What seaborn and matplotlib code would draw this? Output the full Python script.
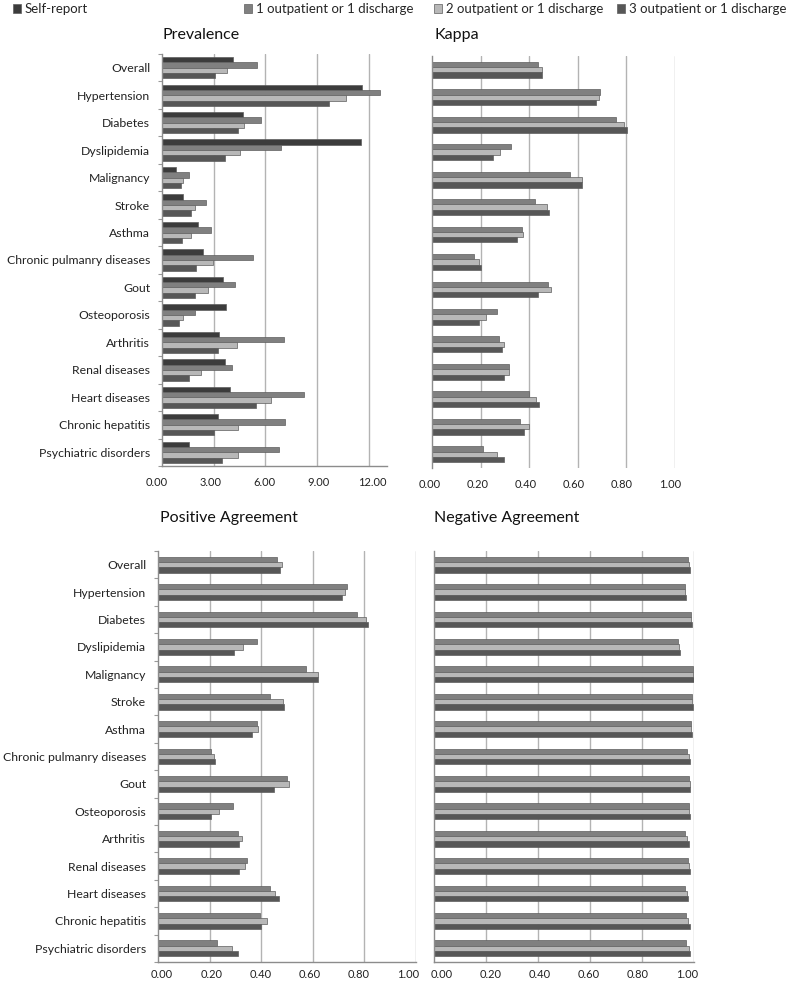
import matplotlib
matplotlib.use("Agg")
import matplotlib.pyplot as plt
import matplotlib.transforms as mtransforms
import seaborn as sns
import pandas as pd
from matplotlib.patches import Patch

categories = ["Overall", "Hypertension", "Diabetes", "Dyslipidemia", "Malignancy",
              "Stroke", "Asthma", "Chronic pulmanry diseases", "Gout", "Osteoporosis",
              "Arthritis", "Renal diseases", "Heart diseases", "Chronic hepatitis",
              "Psychiatric disorders"]
series = ["Self-report", "1 outpatient or 1 discharge",
          "2 outpatient or 1 discharge", "3 outpatient or 1 discharge"]

prev_self = [4.09, 11.59, 4.71, 11.55, 0.83, 1.20, 2.09, 2.40, 3.52, 3.69, 3.32, 3.63, 3.94, 3.25, 1.58]
prev_1 = [5.49, 12.67, 5.74, 6.88, 1.58, 2.53, 2.82, 5.29, 4.23, 1.89, 7.05, 4.06, 8.21, 7.11, 6.78]
prev_2 = [3.79, 10.70, 4.77, 4.54, 1.24, 1.91, 1.66, 2.97, 2.68, 1.22, 4.33, 2.26, 6.30, 4.42, 4.42]
prev_3 = [3.09, 9.70, 4.38, 3.65, 1.10, 1.66, 1.16, 1.95, 1.91, 0.97, 3.26, 1.58, 5.43, 2.99, 3.50]

kappa_1 = [0.435, 0.690, 0.756, 0.324, 0.566, 0.424, 0.370, 0.174, 0.476, 0.267, 0.276, 0.315, 0.401, 0.362, 0.208]
kappa_2 = [0.454, 0.686, 0.789, 0.281, 0.619, 0.475, 0.374, 0.195, 0.488, 0.221, 0.298, 0.318, 0.426, 0.401, 0.269]
kappa_3 = [0.451, 0.676, 0.804, 0.252, 0.617, 0.481, 0.351, 0.200, 0.435, 0.193, 0.288, 0.296, 0.439, 0.377, 0.295]

pos_1 = [0.462, 0.732, 0.771, 0.383, 0.573, 0.436, 0.383, 0.204, 0.499, 0.290, 0.310, 0.344, 0.433, 0.395, 0.230]
pos_2 = [0.479, 0.723, 0.805, 0.331, 0.622, 0.483, 0.388, 0.217, 0.506, 0.235, 0.326, 0.339, 0.455, 0.424, 0.287]
pos_3 = [0.472, 0.713, 0.815, 0.296, 0.622, 0.490, 0.364, 0.219, 0.450, 0.206, 0.314, 0.314, 0.468, 0.400, 0.312]

neg_1 = [0.976, 0.964, 0.988, 0.940, 0.996, 0.991, 0.987, 0.972, 0.982, 0.982, 0.964, 0.977, 0.964, 0.969, 0.968]
neg_2 = [0.979, 0.967, 0.990, 0.944, 0.997, 0.994, 0.990, 0.979, 0.986, 0.982, 0.973, 0.982, 0.972, 0.978, 0.979]
neg_3 = [0.983, 0.969, 0.992, 0.945, 0.999, 0.995, 0.992, 0.983, 0.986, 0.983, 0.979, 0.983, 0.976, 0.983, 0.983]

colors = {series[0]: "#3c3c3c", series[1]: "#808080", series[2]: "#b8b8b8", series[3]: "#575757"}


def long_df(cols, names):
    rows = []
    for vals, name in zip(cols, names):
        for c, v in zip(categories, vals):
            rows.append({"cat": c, "series": name, "value": v})
    return pd.DataFrame(rows)


sns.set_theme(style="white")
plt.rcParams["font.family"] = ["Lato", "DejaVu Sans"]

W, H = 794, 984
fig = plt.figure(figsize=(W / 100, H / 100), dpi=100)


def add_ax(x0, x1, ytop, ybot):
    return fig.add_axes([x0 / W, 1 - ybot / H, (x1 - x0) / W, (ybot - ytop) / H])


def draw(ax, df, hue_order, width, xmax, ticks, ticklabels, show_y, ytickmarks, bottom_spine,
         lab_off0=0.0, lab_off1=0.0, xpad=8):
    sns.barplot(data=df, y="cat", x="value", hue="series", hue_order=hue_order,
                order=categories, palette=colors, width=width, orient="h",
                edgecolor="#5e5e5e", linewidth=0.5, legend=False, ax=ax, dodge=True)
    ax.set_xlim(0, xmax)
    ax.set_ylim(len(categories) - 0.5, -0.5)
    ax.set_xticks(ticks)
    ax.set_xticklabels(ticklabels, fontsize=8, color="#222222")
    ax.tick_params(axis="x", length=0, pad=xpad)
    # small horizontal nudges of the tick labels, as in the reference
    n = len(ticks)
    for i, lab in enumerate(ax.get_xticklabels()):
        frac = i / (n - 1)
        dx = lab_off0 + (lab_off1 - lab_off0) * frac
        lab.set_transform(lab.get_transform() +
                          mtransforms.ScaledTranslation(dx / 100, 0, fig.dpi_scale_trans))
    for t in ticks[1:]:
        ax.axvline(t, color="#b3b3b3", lw=1.0, zorder=0)
    ax.set_xlabel("")
    ax.set_ylabel("")
    if show_y:
        ax.set_yticks(range(len(categories)))
        ax.set_yticklabels(categories, fontsize=8.8, color="#222222")
        ax.tick_params(axis="y", which="major", length=0, pad=8.5)
    else:
        ax.set_yticks([])
    if ytickmarks:
        ax.set_yticks([i - 0.5 for i in range(len(categories) + 1)], minor=True)
        ax.tick_params(axis="y", which="minor", length=3, width=0.8, color="#999999", left=True)
    for s in ["top", "right"]:
        ax.spines[s].set_visible(False)
    ax.spines["left"].set_color("#8c8c8c")
    ax.spines["left"].set_linewidth(1.0)
    if bottom_spine:
        ax.spines["bottom"].set_color("#8c8c8c")
        ax.spines["bottom"].set_linewidth(1.0)
    else:
        ax.spines["bottom"].set_visible(False)
    ax.grid(False)


# Prevalence
ax1 = add_ax(162, 387, 54, 466)
df1 = long_df([prev_self, prev_1, prev_2, prev_3], series)
draw(ax1, df1, series, 0.775, 13.05, [0, 3, 6, 9, 12],
     ["0.00", "3.00", "6.00", "9.00", "12.00"], True, True, True, -5, 3)

r_ticks = [0, 0.2, 0.4, 0.6, 0.8, 1.0]
r_labels = ["0.00", "0.20", "0.40", "0.60", "0.80", "1.00"]

# Kappa
ax2 = add_ax(432, 675, 56, 468)
df2 = long_df([kappa_1, kappa_2, kappa_3], series[1:])
draw(ax2, df2, series[1:], 0.58, 1.0, r_ticks, r_labels, False, False, False, -2, -5)

# Positive agreement
ax3 = add_ax(158, 416, 551, 962)
df3 = long_df([pos_1, pos_2, pos_3], series[1:])
draw(ax3, df3, series[1:], 0.58, 1.0, r_ticks, r_labels, True, True, True, 4, -8, 5)

# Negative agreement
ax4 = add_ax(434, 694, 551, 962)
df4 = long_df([neg_1, neg_2, neg_3], series[1:])
draw(ax4, df4, series[1:], 0.58, 1.0, r_ticks, r_labels, False, False, True, 8, -7, 5)

# Titles
fig.text(163 / W, 1 - 35 / H, "Prevalence", fontsize=11.5, ha="left", va="center", color="#111111")
fig.text(434 / W, 1 - 35 / H, "Kappa", fontsize=11.5, ha="left", va="center", color="#111111")
fig.text(160 / W, 1 - 518 / H, "Positive Agreement", fontsize=11.5, ha="left", va="center", color="#111111")
fig.text(434 / W, 1 - 518 / H, "Negative Agreement", fontsize=11.5, ha="left", va="center", color="#111111")

# Legend entries placed individually
leg_x = [13, 244, 434, 617]
for name, x in zip(series, leg_x):
    h = Patch(facecolor=colors[name], edgecolor="#5e5e5e", linewidth=0.5)
    fig.legend(handles=[h], labels=[name], loc="center left",
               bbox_to_anchor=(x / W, 1 - 9 / H), frameon=False, fontsize=9.5,
               handlelength=0.6, handleheight=0.6, handletextpad=0.3,
               borderpad=0, borderaxespad=0)

fig.savefig("out.png", dpi=100)
